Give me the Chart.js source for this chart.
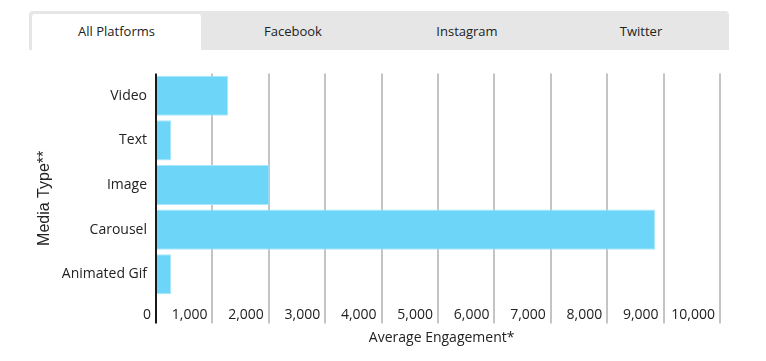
<!DOCTYPE html>
<html>
<head>
  <title>Average Engagement by Media Type</title>
  <script src="https://cdn.jsdelivr.net/npm/chart.js"></script>
  <style>
    body { margin: 0; background: #fff; font-family: "Open Sans", sans-serif; }
    #wrap { position: relative; width: 766px; height: 361px; }
    #tabs {
      position: absolute; left: 29px; top: 11px; width: 700px; height: 39px;
      background: #e6e6e6; border-radius: 4px 4px 0 0; box-sizing: border-box;
      padding: 3px 0 0 3px; display: flex;
    }
    .tab { width: 174px; text-align: center; font-size: 13px; color: #222; line-height: 34px; }
    .tab.active { background: #fff; border-radius: 3px 3px 0 0; width: 169px; margin-right: 5px; }
    #chartBox { position: absolute; left: 0; top: 0; width: 766px; height: 361px; }
  </style>
</head>
<body>
  <div id="wrap">
    <div id="chartBox"><canvas id="engagementChart"></canvas></div>
    <div id="tabs">
      <div class="tab active">All Platforms</div>
      <div class="tab">Facebook</div>
      <div class="tab">Instagram</div>
      <div class="tab">Twitter</div>
    </div>
  </div>

  <script>
    const mediaTypes = ['Video', 'Text', 'Image', 'Carousel', 'Animated Gif'];
    const avgEngagement = [1280, 270, 2010, 8850, 270];
    const xTicks = [0, 1000, 2000, 3000, 4000, 5000, 6000, 7000, 8000, 9000, 10000];

    const ctx = document.getElementById('engagementChart').getContext('2d');
    new Chart(ctx, {
      type: 'bar',
      data: {
        labels: mediaTypes,
        datasets: [{
          label: 'Average Engagement',
          data: avgEngagement,
          backgroundColor: '#6dd6f8',
          borderColor: '#a8e7fb',
          borderWidth: 1,
          categoryPercentage: 1.0,
          barPercentage: 0.9
        }]
      },
      options: {
        indexAxis: 'y',
        responsive: true,
        maintainAspectRatio: false,
        animation: false,
        layout: { padding: { top: 73.5, right: 46, left: 0, bottom: 0 } },
        plugins: {
          legend: { display: false },
          tooltip: { enabled: false }
        },
        scales: {
          x: {
            position: 'bottom',
            min: 0,
            max: 10000,
            afterBuildTicks: scale => { scale.ticks = xTicks.map(v => ({ value: v })); },
            grid: {
              color: c => c.index === 0 ? '#1a1a1a' : '#c4c4c4',
              lineWidth: 2,
              tickLength: 27,
              drawTicks: true
            },
            border: { display: false },
            ticks: {
              autoSkip: false,
              maxRotation: 0,
              align: 'end',
              labelOffset: -5,
              padding: -17,
              color: '#222',
              font: { family: 'Open Sans', size: 14 },
              callback: v => v.toLocaleString('en-US')
            },
            title: {
              display: true,
              text: '\u00A0\u00A0Average Engagement*',
              color: '#222',
              font: { family: 'Open Sans', size: 14 },
              padding: { top: 0, bottom: 15 }
            },
            afterFit: scale => { scale.height = 64.5; }
          },
          y: {
            grid: { display: false, drawTicks: false },
            border: { display: false },
            ticks: {
              padding: 9,
              color: '#222',
              font: { family: 'Open Sans', size: 14 }
            },
            title: {
              display: true,
              // trailing spaces nudge the rotated title down like the original
              text: 'Media Type**\u00A0\u00A0\u00A0\u00A0\u00A0\u00A0',
              color: '#222',
              font: { family: 'Liberation Sans', size: 16 },
              padding: { top: 35, bottom: 0 }
            },
            afterFit: scale => { scale.width = 156; }
          }
        }
      }
    });
  </script>
</body>
</html>
